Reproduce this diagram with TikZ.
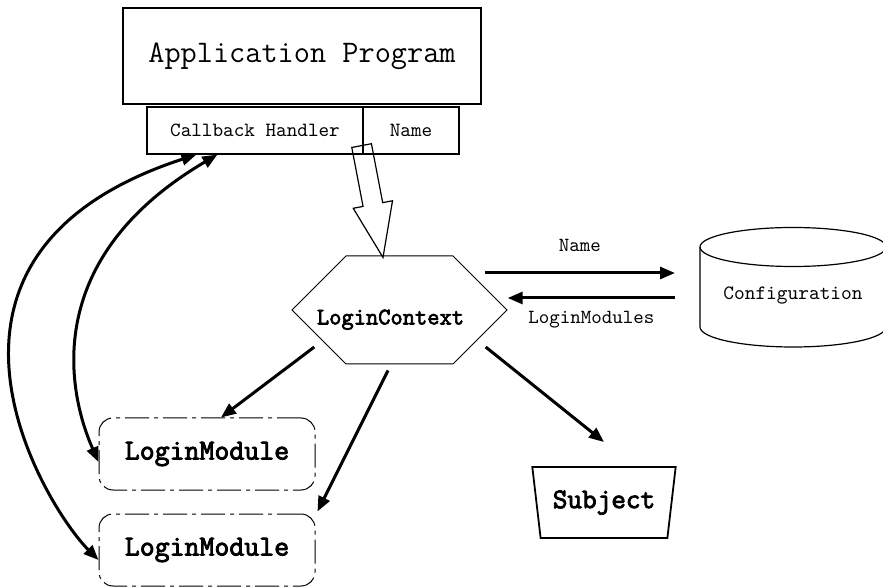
\documentclass[tikz,border=0pt]{standalone}
\usepackage{fontspec}
\setmainfont{Latin Modern Mono}[BoldFont={Latin Modern Mono}, BoldFeatures={FakeBold=3}]
\usetikzlibrary{calc,arrows.meta,shapes.geometric,shapes.symbols}

\begin{document}
\begin{tikzpicture}[x=0.5pt,y=-0.5pt,
    program/.style ={rectangle, draw, line width=0.6pt, inner sep=0pt},
    context/.style ={signal, signal to=east and west, signal pointer angle=90,
      draw, line width=0.5pt, inner sep=0pt, minimum width=107.5pt, minimum height=54pt,
      font=\bfseries\fontsize{11.9}{13}\selectfont},
    store/.style ={line width=0.6pt},
    module/.style ={rectangle, rounded corners=7pt, draw, line width=0.5pt,
      dash pattern=on 12pt off 2.5pt on 2pt off 2.5pt, minimum width=108pt, minimum height=36pt,
      inner sep=0pt, font=\bfseries\fontsize{14.5}{16}\selectfont},
    subject/.style ={trapezium, shape border rotate=180, trapezium left angle=74.5,
      trapezium right angle=74.5, trapezium stretches=true, draw, line width=0.9pt,
      minimum width=72pt, minimum height=35.5pt, inner sep=0pt,
      font=\bfseries\fontsize{14.2}{16}\selectfont},
    lab/.style ={inner sep=0pt, font=\fontsize{10}{12}\selectfont},
    flow/.style ={line width=1.5pt, -{Triangle[length=7.5pt,width=6pt]}},
    both/.style ={line width=1.5pt, {Triangle[length=7.5pt,width=6pt]}-{Triangle[length=7.5pt,width=6pt]}}]
   \useasboundingbox (0,0) rectangle (883,587);

   \node[program, minimum width=179pt, minimum height=48pt,
     font=\fontsize{15.7}{18}\selectfont] (A) at (302,56) {Application Program};
   \node[program, minimum width=108pt, minimum height=23.5pt,
     font=\fontsize{10.1}{12}\selectfont] (B) at (255,130.5) {Callback Handler};
   \node[program, minimum width=48pt, minimum height=23.5pt,
     font=\fontsize{10.1}{12}\selectfont] (C) at (411,130.5) {Name};
   \node[context] (D) at (399.5,310) {\makebox[0pt]{\smash{\raisebox{-7.2pt}{LoginContext\hspace{9pt}}}}};
   \node[module] (F) at (207,454) {LoginModule};
   \node[module] (G) at (207,550) {LoginModule};
   \node[subject] (H) at (604,502.5) {Subject};

   % configuration store
   \draw[store] (700,247) -- (700,327) arc[start angle=180, end angle=360, x radius=46.5pt, y radius=10pt] -- (886,247);
   \draw[store] (793,247) ellipse [x radius=46.5pt, y radius=9.75pt];
   \node[lab, font=\fontsize{10.2}{12}\selectfont] (E) at (793,295) {Configuration};

   % hollow arrow from the name down to the context
   \coordinate (P) at ([xshift=-1pt,yshift=4.5pt]B.south east);
   \coordinate (Q) at ([xshift=-8.25pt,yshift=-1pt]D.north);
   \coordinate (R) at ($(P)!30pt!(Q)$);
   \draw[line width=0.6pt] ($(P)!5pt!90:(Q)$) -- ($(R)!5pt!90:(Q)$) -- ($(R)!10pt!90:(Q)$)
     -- (Q) -- ($(R)!10pt!-90:(Q)$) -- ($(R)!5pt!-90:(Q)$) -- ($(P)!5pt!-90:(Q)$) -- cycle;

   \draw[flow] ([xshift=-11.5pt,yshift=18.5pt]D.east) to node[lab, above=10pt] {Name}
     ([xshift=-59pt,yshift=11pt]E.center);
   \draw[flow] ([xshift=-59pt,yshift=-1.5pt]E.center) to node[lab, below=6pt] {LoginModules}
     ([yshift=6pt]D.east);

   \draw[flow] ([xshift=11.5pt,yshift=-18.5pt]D.west) to ([xshift=7pt]F.north);
   \draw[flow] ([xshift=-5.75pt,yshift=-3pt]D.south) to ([xshift=1pt,yshift=1pt]G.north east);
   \draw[flow] ([xshift=-11pt,yshift=-18.5pt]D.east) to ([yshift=30.25pt]H.center);

   % callbacks between the handler and the modules
   \draw[both] ([xshift=25pt]B.south west) .. controls +(-307,100) and +(-53,-53) .. ([yshift=-5pt]G.west);
   \draw[both] ([xshift=35.5pt]B.south west) .. controls +(-202,119) and +(-14,-32) .. ([yshift=-4pt]F.west);
 \end{tikzpicture}
\end{document}
